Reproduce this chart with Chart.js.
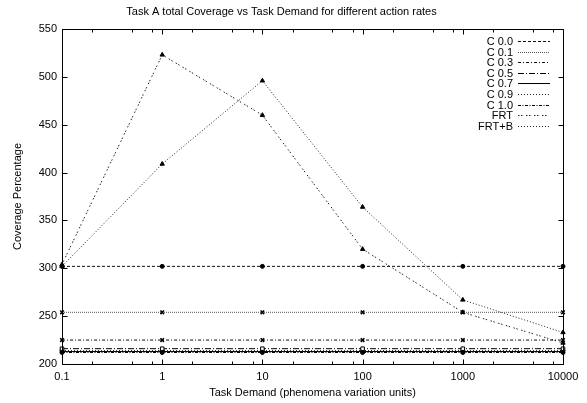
<!DOCTYPE html>
<html>
<head>
<meta charset="utf-8">
<script src="https://cdn.jsdelivr.net/npm/chart.js@4/dist/chart.umd.min.js"></script>
<style>
  html, body { margin: 0; padding: 0; background: #fff; }
  #wrap { width: 587px; height: 403px; }
</style>
</head>
<body>
<div id="wrap"><canvas id="c" width="587" height="403"></canvas></div>
<script>
// Task demand values (x, log scale) and decade tick labels
const demand = [0.1, 1, 10, 100, 1000, 10000];
const xTickLabels = ['0.1', '1', '10', '100', '1000', '10000'];
const minorFactors = [2, 5, 8];
const yTickValues = [200, 250, 300, 350, 400, 450, 500, 550];

// Coverage percentage per action rate
const seriesNames = ['C 0.0', 'C 0.1', 'C 0.3', 'C 0.5', 'C 0.7', 'C 0.9', 'C 1.0', 'FRT', 'FRT+B'];
const c00 = [302, 302, 302, 302, 302, 302];
const c01 = [254, 254, 254, 254, 254, 254];
const c03 = [225, 225, 225, 225, 225, 225];
const c05 = [216, 216, 216, 216, 216, 216];
const c07 = [213, 213, 213, 213, 213, 213];
const c09 = [214, 214, 214, 214, 214, 214];
const c10 = [212, 212, 212, 212, 212, 212];
const frt = [304, 523, 460, 320, 254, 222];
const frtB = [302, 409, 496, 364, 267, 233];

const values = [c00, c01, c03, c05, c07, c09, c10, frt, frtB];

const styles = [
  { dash: [3, 2],            color: '#111', point: 'circle',   fill: true,  r: 2,   bw: 1 },
  { dash: [1, 1],            color: '#555', point: 'crossRot', fill: true,  r: 2.5, bw: 1.6 },
  { dash: [3, 2, 1, 2],      color: '#111', point: 'crossRot', fill: true,  r: 2.5, bw: 1.6 },
  { dash: [6, 2, 1, 2],      color: '#000', point: 'rect',     fill: false, r: 2.5, bw: 1 },
  { dash: [],                color: '#000', point: 'rect',     fill: true,  r: 2,   bw: 1 },
  { dash: [1, 2],            color: '#222', point: 'circle',   fill: false, r: 2,   bw: 1 },
  { dash: [3, 1.5, 1, 1.5],  color: '#000', point: 'circle',   fill: true,  r: 2,   bw: 1 },
  { dash: [1.5, 1.5, 1.5, 3.5], color: '#222', point: 'triangle', fill: true, r: 2.5, bw: 1 },
  { dash: [1, 2],            color: '#222', point: 'triangle', fill: true,  r: 2.5, bw: 1 }
];

const datasets = seriesNames.map((name, i) => ({
  label: name,
  data: demand.map((x, j) => ({ x: x, y: values[i][j] })),
  borderColor: styles[i].color,
  borderWidth: 1,
  borderDash: styles[i].dash,
  pointStyle: styles[i].point,
  pointRadius: styles[i].r,
  pointBorderWidth: styles[i].bw,
  pointBorderColor: '#000',
  pointBackgroundColor: styles[i].fill ? '#000' : '#fff',
  fill: false,
  tension: 0,
  clip: false
}));

const FONT = '"Liberation Sans", Arial, Helvetica, sans-serif';

// Frame with inward ticks on all four sides plus a line-sample key
const framePlugin = {
  id: 'frame',
  afterDraw(chart) {
    const { ctx, chartArea: a, scales } = chart;
    const xs = scales.x, ys = scales.y;
    const snap = v => Math.round(v) + 0.5;
    ctx.save();
    ctx.strokeStyle = '#000';
    ctx.lineWidth = 1;
    ctx.setLineDash([]);
    ctx.beginPath();
    const L = snap(a.left), R = snap(a.right), T = snap(a.top), B = snap(a.bottom);
    ctx.rect(L, T, R - L, B - T);
    const major = 5, minor = 3;
    yTickValues.forEach(v => {
      const py = snap(ys.getPixelForValue(v));
      ctx.moveTo(L, py); ctx.lineTo(L + major, py);
      ctx.moveTo(R, py); ctx.lineTo(R - major, py);
    });
    demand.forEach((d, i) => {
      const px = snap(xs.getPixelForValue(d));
      ctx.moveTo(px, B); ctx.lineTo(px, B - major);
      ctx.moveTo(px, T); ctx.lineTo(px, T + major);
      if (i < demand.length - 1) {
        minorFactors.forEach(m => {
          const mx = snap(xs.getPixelForValue(d * m));
          ctx.moveTo(mx, B); ctx.lineTo(mx, B - minor);
          ctx.moveTo(mx, T); ctx.lineTo(mx, T + minor);
        });
      }
    });
    ctx.stroke();

    // key
    ctx.font = '11px ' + FONT;
    ctx.textAlign = 'right';
    ctx.textBaseline = 'middle';
    ctx.fillStyle = '#000';
    const textRight = a.right - 50, x0 = a.right - 45, x1 = a.right - 13;
    chart.data.datasets.forEach((ds, i) => {
      const yy = Math.round(a.top + 12 + i * 10.6) + 0.5;
      ctx.fillText(ds.label, textRight, yy);
      ctx.beginPath();
      ctx.strokeStyle = ds.borderColor;
      ctx.setLineDash(ds.borderDash);
      ctx.moveTo(x0, yy); ctx.lineTo(x1, yy);
      ctx.stroke();
    });
    ctx.restore();
  }
};

new Chart(document.getElementById('c'), {
  type: 'line',
  data: { datasets },
  options: {
    responsive: false,
    animation: false,
    events: [],
    layout: { padding: { top: 0, right: 24, bottom: 0, left: 0 } },
    plugins: {
      legend: { display: false },
      tooltip: { enabled: false },
      title: {
        display: true,
        text: 'Task A total Coverage vs Task Demand for different action rates',
        color: '#000',
        font: { family: FONT, size: 11, weight: 'normal', lineHeight: 1.2 },
        padding: { top: 5, bottom: 10.8 }
      }
    },
    scales: {
      x: {
        type: 'logarithmic',
        min: 0.1,
        max: 10000,
        border: { display: false },
        grid: { display: false, drawTicks: false },
        afterBuildTicks: s => { s.ticks = demand.map(v => ({ value: v })); },
        afterFit: s => { s.height = 39; },
        ticks: {
          autoSkip: false,
          maxRotation: 0,
          padding: 6,
          color: '#000',
          font: { family: FONT, size: 11 },
          callback: (v, i) => xTickLabels[i]
        },
        title: {
          display: true,
          text: 'Task Demand (phenomena variation units)',
          color: '#000',
          font: { family: FONT, size: 11 },
          padding: { top: 0, bottom: 3 }
        }
      },
      y: {
        min: 200,
        max: 550,
        border: { display: false },
        grid: { display: false, drawTicks: false },
        afterBuildTicks: s => { s.ticks = yTickValues.map(v => ({ value: v })); },
        afterFit: s => { s.width = 62; },
        ticks: {
          padding: 5,
          color: '#000',
          font: { family: FONT, size: 11 }
        },
        title: {
          display: true,
          text: 'Coverage Percentage',
          color: '#000',
          font: { family: FONT, size: 11 },
          padding: { top: 11, bottom: 0 }
        }
      }
    }
  },
  plugins: [framePlugin]
});
</script>
</body>
</html>
